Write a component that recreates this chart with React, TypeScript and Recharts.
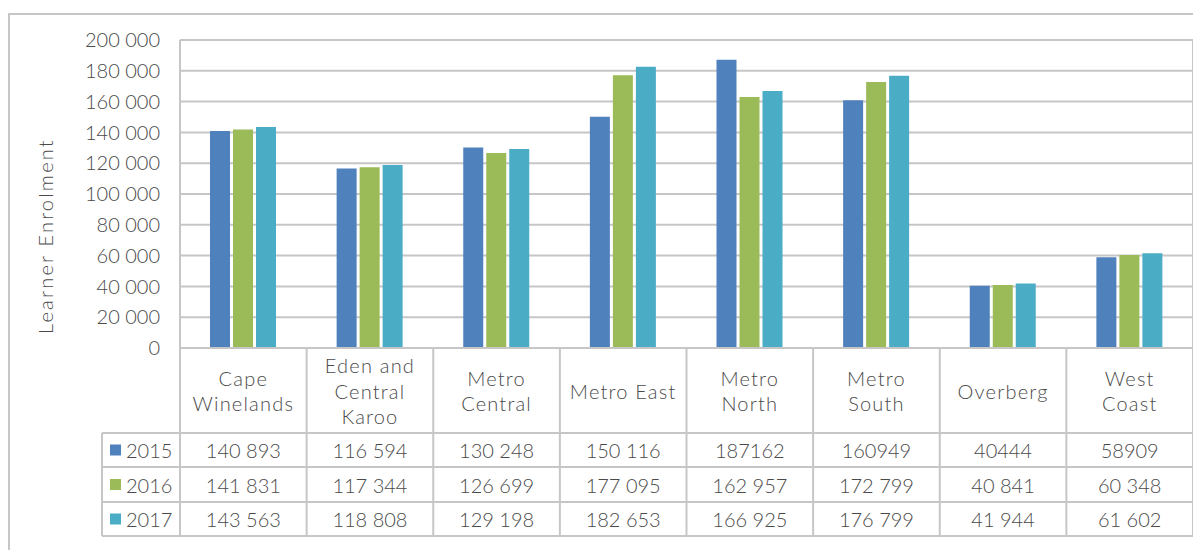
import { BarChart, Bar, XAxis, YAxis, CartesianGrid } from "recharts";

// Region names ("\n" marks where the header cell wraps)
const regions = [
  "Cape\nWinelands",
  "Eden and\nCentral\nKaroo",
  "Metro\nCentral",
  "Metro East",
  "Metro\nNorth",
  "Metro\nSouth",
  "Overberg",
  "West\nCoast",
];

const years = ["2015", "2016", "2017"];

// Enrolment per region, kept as printed in the table
const enrol2015 = ["140 893", "116 594", "130 248", "150 116", "187162", "160949", "40444", "58909"];
const enrol2016 = ["141 831", "117 344", "126 699", "177 095", "162 957", "172 799", "40 841", "60 348"];
const enrol2017 = ["143 563", "118 808", "129 198", "182 653", "166 925", "176 799", "41 944", "61 602"];

const yTicks = [0, 20000, 40000, 60000, 80000, 100000, 120000, 140000, 160000, 180000, 200000];

const COLORS = ["#4F81BD", "#9BBB59", "#4BACC6"];
const TEXT = "#4A4A4A";
const LINE = "#C6C6C6";
const FONT = "Lato, 'Open Sans', sans-serif";
const WEIGHT = 300;

const series = [enrol2015, enrol2016, enrol2017];
const toNumber = (s: string) => Number(s.replace(/\s/g, ""));

const data = regions.map((region, i) => ({
  region,
  y2015: toNumber(enrol2015[i]),
  y2016: toNumber(enrol2016[i]),
  y2017: toNumber(enrol2017[i]),
}));

const W = 1193;
const H = 542;
const PLOT = { left: 172, top: 32, right: 1185, bottom: 340 };
// horizontal rules of the data table: header bottom, then each row bottom
const ROWS = [PLOT.bottom, 425, 459, 494, 528];
const LEGEND_LEFT = 94;

const spaced = (v: number) => String(v).replace(/\B(?=(\d{3})+(?!\d))/g, " ");

const TableTick = (props: any) => {
  const { x, index, payload } = props;
  const band = (PLOT.right - PLOT.left) / regions.length;
  const lines: string[] = String(payload.value).split("\n");
  const headMid = (ROWS[0] + ROWS[1]) / 2;
  const lh = 25.5;
  const first = headMid - ((lines.length - 1) * lh) / 2;

  return (
    <g fontFamily={FONT} fontSize={20} fontWeight={WEIGHT} fill={TEXT}>
      {index === 0 && (
        <g>
          {/* plot frame + table frame */}
          <line x1={PLOT.left} y1={PLOT.top} x2={PLOT.left} y2={ROWS[4]} stroke={LINE} strokeWidth={2} />
          <line x1={PLOT.right} y1={PLOT.top} x2={PLOT.right} y2={ROWS[4]} stroke={LINE} strokeWidth={2} />
          <line x1={LEGEND_LEFT} y1={ROWS[1]} x2={LEGEND_LEFT} y2={ROWS[4]} stroke={LINE} strokeWidth={2} />
          {ROWS.map((ry, k) => (
            <line
              key={ry}
              x1={k === 0 ? PLOT.left : LEGEND_LEFT}
              y1={ry}
              x2={PLOT.right}
              y2={ry}
              stroke={LINE}
              strokeWidth={2}
            />
          ))}
          {years.map((yr, k) => {
            const cy = (ROWS[k + 1] + ROWS[k + 2]) / 2;
            return (
              <g key={yr}>
                <rect x={102} y={cy - 5.5} width={11} height={11} fill={COLORS[k]} />
                <text x={118} y={cy} dominantBaseline="central" fill={TEXT}>
                  {yr}
                </text>
              </g>
            );
          })}
        </g>
      )}
      <line x1={x + band / 2} y1={ROWS[0]} x2={x + band / 2} y2={ROWS[4]} stroke={LINE} strokeWidth={2} />
      {lines.map((t, k) => (
        <text
          key={t}
          x={x}
          y={first + k * lh}
          textAnchor="middle"
          dominantBaseline="central"
          letterSpacing={1.2}
          fill={TEXT}
        >
          {t}
        </text>
      ))}
      {series.map((vals, k) => (
        <text
          key={years[k]}
          x={x}
          y={(ROWS[k + 1] + ROWS[k + 2]) / 2}
          textAnchor="middle"
          dominantBaseline="central"
          fill={TEXT}
        >
          {vals[index]}
        </text>
      ))}
    </g>
  );
};

export default function App() {
  return (
    <div style={{ position: "relative", width: W, height: H, background: "#fff" }}>
      <div
        style={{
          position: "absolute",
          top: 5,
          left: 0,
          width: W + 20,
          height: H,
          borderTop: `2px solid ${LINE}`,
          borderLeft: `2px solid ${LINE}`,
          boxSizing: "border-box",
        }}
      />
      <BarChart
        width={W}
        height={H}
        data={data}
        margin={{ top: PLOT.top, right: W - PLOT.right, left: 0, bottom: H - ROWS[4] }}
        barSize={20}
        barGap={3}
        style={{ position: "absolute", top: 0, left: 0 }}
      >
        <CartesianGrid vertical={false} stroke={LINE} strokeWidth={2} />
        <XAxis
          dataKey="region"
          height={ROWS[4] - ROWS[0]}
          axisLine={false}
          tickLine={false}
          interval={0}
          tick={(p: any) => <TableTick {...p} />}
        />
        <YAxis
          width={PLOT.left}
          domain={[0, 200000]}
          ticks={yTicks}
          axisLine={false}
          tickLine={false}
          tickSize={0}
          tickMargin={20}
          tickFormatter={spaced}
          tick={{ fill: TEXT, fontSize: 20, fontFamily: FONT, fontWeight: WEIGHT }}
          label={{
            content: () => (
              <text
                x={37}
                y={228}
                transform="rotate(-90 37 228)"
                textAnchor="middle"
                dominantBaseline="central"
                fill={TEXT}
                fontSize={20}
                fontWeight={WEIGHT}
                fontFamily={FONT}
                letterSpacing={2.2}
              >
                Learner Enrolment
              </text>
            ),
          }}
        />
        {years.map((yr, k) => (
          <Bar key={yr} dataKey={`y${yr}`} fill={COLORS[k]} isAnimationActive={false} />
        ))}
      </BarChart>
    </div>
  );
}
